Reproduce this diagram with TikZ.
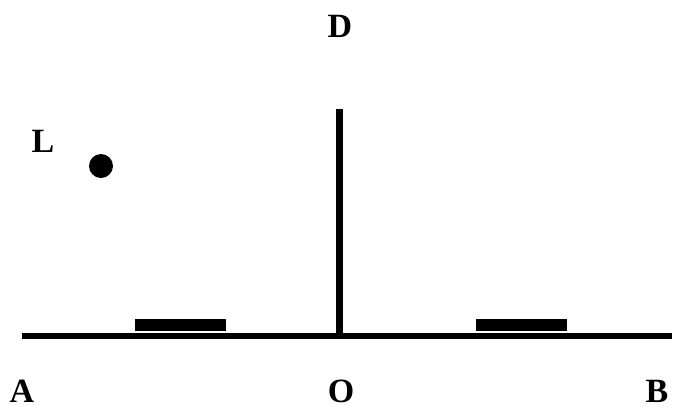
\documentclass[tikz,border=0pt]{standalone}
\usepackage{fontspec}
\setmainfont{Liberation Serif}
\usepackage{tikz}

\begin{document}
\begin{tikzpicture}[x=1pt,y=-1pt,
    lbl/.style={font=\fontsize{34}{36}\selectfont\bfseries, inner sep=0pt},
    rail/.style={line width=6pt},
    plate/.style={fill=black, draw=none}]
\useasboundingbox (0,0) rectangle (674,405);
% ground line and mirror
\coordinate (left) at (22,336);
\coordinate (right) at (672,336);
\coordinate (base) at (339,336);
\coordinate (top) at (339,109);
\draw[rail] (left) -- (right);
\draw[line width=7pt] (base) -- (top);
% plates
\fill[plate] (135,319) rectangle (226,331);
\fill[plate] (476,319) rectangle (567,331);
% source
\node[circle, fill=black, minimum size=24pt, inner sep=0pt] (lamp) at (101,166) {};
% labels
\node[lbl] (D) at (340,26) {D};
\node[lbl] (L) at (43,141) {L};
\node[lbl] (A) at (22,391) {A};
\node[lbl] (O) at (341,391) {O};
\node[lbl] (B) at (657,391) {B};
\end{tikzpicture}
\end{document}
